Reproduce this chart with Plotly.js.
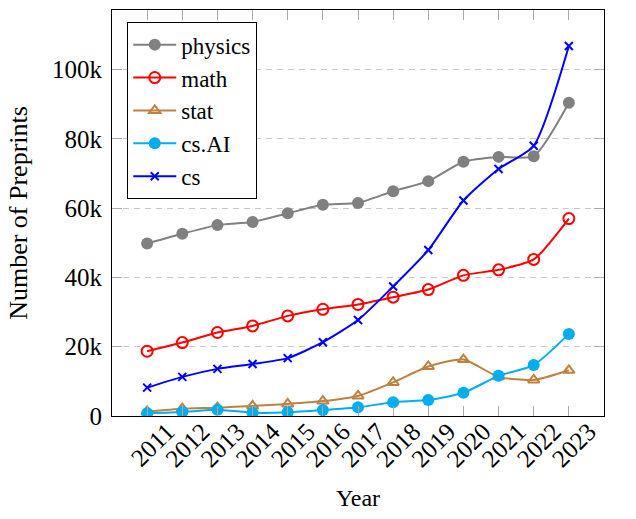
<!DOCTYPE html>
<html>
<head>
<meta charset="utf-8">
<script src="https://cdn.plot.ly/plotly-3.0.1.min.js"></script>
<style>html,body{margin:0;padding:0;background:#fff;}#chart{width:636px;height:519px;}</style>
</head>
<body>
<div id="chart"></div>
<script>
const years = [2011, 2012, 2013, 2014, 2015, 2016, 2017, 2018, 2019, 2020, 2021, 2022, 2023];
const physics = [49800, 52600, 55100, 56000, 58500, 61000, 61500, 64900, 67800, 73400, 74800, 75000, 90400];
const math = [18700, 21200, 24100, 26000, 28900, 30800, 32200, 34300, 36500, 40600, 42200, 45200, 57000];
const stat = [1300, 2100, 2400, 2900, 3500, 4300, 5800, 9700, 14300, 16300, 11300, 10400, 13200];
const csAI = [800, 1150, 1800, 950, 1050, 1700, 2500, 4000, 4600, 6700, 11600, 14700, 23700];
const cs = [8200, 11300, 13600, 15000, 16700, 21300, 27700, 37400, 47900, 62200, 71300, 78000, 106800];
const yTickVals = [0, 20000, 40000, 60000, 80000, 100000];
const yTickText = ['0', '20k', '40k', '60k', '80k', '100k'];
const xTickText = years.map(String);

const font = 'Liberation Serif, Times New Roman, serif';
function tr(name, y, color, symbol, size, lw) {
  return {
    x: years, y: y, name: name, type: 'scatter', mode: 'lines+markers',
    line: {color: color, width: 2, shape: 'spline', smoothing: 0.6},
    marker: {color: color, symbol: symbol, size: size, line: {color: color, width: lw}}
  };
}
const data = [
  tr('physics', physics, '#808080', 'circle', 12, 0),
  tr('math', math, '#ff0000', 'circle-open', 11, 2),
  tr('stat', stat, '#bf8040', 'triangle-up-open', 10, 2),
  tr('cs.AI', csAI, '#00aeef', 'circle', 12, 0),
  tr('cs', cs, '#0000ff', 'x-thin-open', 8, 2)
];
const layout = {
  width: 636, height: 519,
  margin: {l: 112, r: 32, t: 10, b: 103},
  paper_bgcolor: '#fff', plot_bgcolor: '#fff',
  font: {family: font, size: 25, color: '#000'},
  showlegend: true,
  legend: {
    x: 0.031, y: 0.970, xanchor: 'left', yanchor: 'top',
    bgcolor: '#fff', bordercolor: '#000', borderwidth: 1,
    font: {family: font, size: 23}, itemwidth: 43, tracegroupgap: 0
  },
  xaxis: {
    range: [2010, 2024], tickvals: years, ticktext: xTickText, tickangle: -45,
    showgrid: false, zeroline: false,
    showline: true, linecolor: '#000', linewidth: 1, mirror: 'ticks',
    ticks: 'inside', ticklen: 10, tickcolor: '#aaa', tickwidth: 1,
    tickfont: {family: font, size: 25}, ticklabelshift: 20, ticklabelstandoff: -10,
    title: {text: 'Year', font: {family: font, size: 24}, standoff: 17}
  },
  yaxis: {
    range: [0, 117200], tickvals: yTickVals, ticktext: yTickText,
    showgrid: true, gridcolor: '#c8c8c8', griddash: '6px,5px', gridwidth: 1, zeroline: false,
    showline: true, linecolor: '#000', linewidth: 1, mirror: 'ticks',
    ticks: 'inside', ticklen: 10, tickcolor: '#aaa', tickwidth: 1,
    tickfont: {family: font, size: 25}, ticklabelstandoff: 4,
    title: {text: 'Number of Preprints', font: {family: font, size: 26}, standoff: 16}
  }
};
Plotly.newPlot('chart', data, layout, {displayModeBar: false, staticPlot: true});
</script>
</body>
</html>
